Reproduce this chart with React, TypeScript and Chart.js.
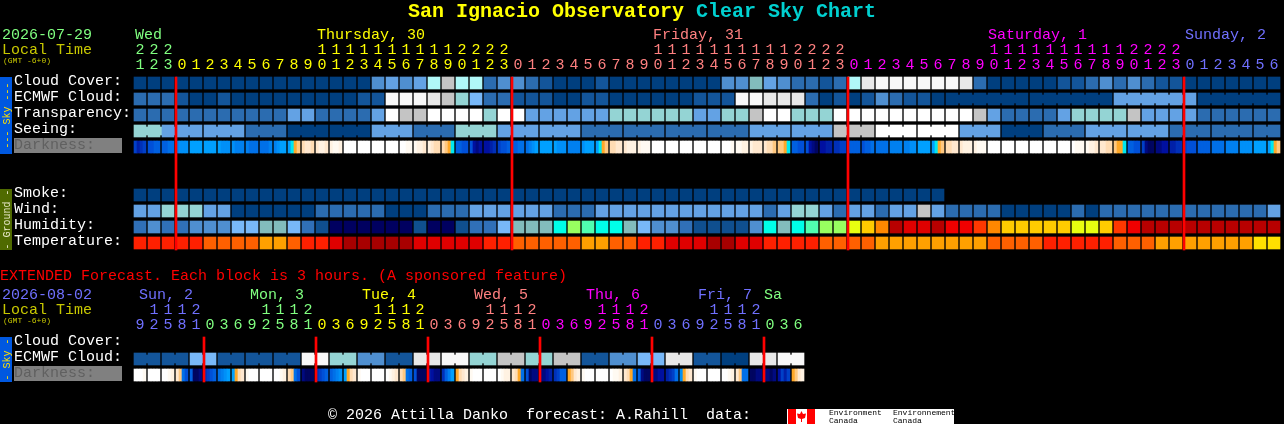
import React, { useEffect, useRef } from "react";
import { Chart, registerables } from "chart.js";

Chart.register(...registerables);

/* ---------- data (palette indices) ---------- */
const mainHours = [21,22,23,0,1,2,3,4,5,6,7,8,9,10,11,12,13,14,15,16,17,18,19,20,21,22,23,
  0,1,2,3,4,5,6,7,8,9,10,11,12,13,14,15,16,17,18,19,20,21,22,23,
  0,1,2,3,4,5,6,7,8,9,10,11,12,13,14,15,16,17,18,19,20,21,22,23,
  0,1,2,3,4,5,6];
const extHours = [9,12,15,18,21,0,3,6,9,12,15,18,21,0,3,6,9,12,15,18,21,0,3,6,9,12,15,18,21,
  0,3,6,9,12,15,18,21,0,3,6,9,12,15,18,21,0,3,6];

const cloudCover = [0,0,0,0,0,0,0,0,0,0,0,0,0,0,0,0,0,3,4,3,4,8,9,8,8,2,3,
  3,2,1,0,0,0,1,0,0,0,0,0,0,0,0,3,3,6,4,3,2,2,1,2,
  8,10,11,11,11,11,11,11,10,2,0,0,0,0,0,1,1,2,3,2,3,2,1,1,
  0,0,0,0,0,0,0];
const ecmwfCloud = [2,2,2,1,0,0,1,0,0,0,0,0,0,0,0,0,1,1,11,11,11,10,9,7,5,2,2,
  1,1,1,0,0,1,1,0,0,0,0,0,0,1,1,1,11,11,10,10,10,2,0,1,
  0,1,3,2,1,1,0,0,0,0,0,0,0,0,0,0,0,0,0,4,4,4,4,4,
  4,0,0,0,0,0,0];
const transparency = [2,2,2,2,2,2,2,2,2,2,2,4,4,2,2,2,2,4,12,9,9,12,12,12,12,7,12,
  12,4,4,4,4,4,4,7,7,7,7,7,7,4,4,7,7,9,12,12,7,7,7,12,
  12,12,12,12,12,12,12,12,12,9,4,2,2,2,2,4,7,7,7,7,9,4,4,4,
  4,2,2,2,2,2,2];
const seeing = [7,7,4,4,4,4,4,4,2,2,2,0,0,0,0,0,0,4,4,4,2,2,2,7,7,7,4,
  4,4,4,4,4,2,2,2,2,2,2,2,2,2,2,2,2,4,4,4,4,4,4,9,
  9,9,12,12,12,12,12,12,4,4,4,0,0,0,2,2,2,4,4,4,4,4,4,2,
  2,2,2,2,2,2,2];
const smoke = [0,0,0,0,0,0,0,0,0,0,0,0,0,0,0,0,0,0,0,0,0,0,0,0,0,0,0,0,0,
  0,0,0,0,0,0,0,0,0,0,0,0,0,0,0,0,0,0,0,0,0,0,0,0,0,0,0,0,0];
const wind = [4,4,7,7,7,4,4,0,0,0,0,0,0,2,2,2,2,2,0,0,0,2,2,2,4,4,4,
  4,4,4,2,2,2,4,4,4,4,4,4,4,4,4,4,4,4,2,4,7,7,4,2,
  4,4,2,4,4,9,4,2,2,2,2,0,0,0,0,0,2,0,2,2,2,2,2,2,
  2,2,2,2,2,2,4];
const humidity = [2,3,2,2,3,3,3,4,4,5,5,4,2,1,0,0,0,0,0,0,1,0,0,1,2,2,4,
  5,5,5,6,8,7,6,6,5,4,3,3,2,1,1,1,1,3,6,5,6,7,8,8,
  9,10,11,15,14,14,15,13,13,12,11,10,10,10,10,10,9,9,10,12,13,15,15,15,
  15,15,15,15,15,15,15];
const temperature = [2,2,2,2,2,3,3,3,3,4,4,3,2,2,1,0,0,0,0,0,1,1,1,1,1,2,2,
  3,3,3,3,3,4,4,3,3,2,2,1,1,1,0,0,1,1,2,2,2,2,3,3,
  3,3,4,4,4,4,4,4,4,4,3,3,3,3,2,2,2,2,2,3,3,3,4,4,
  4,4,4,4,4,5,5];
const darkness = [
  14,16,15,14, 13,13,12,12, 12,12,11,11, 10,9,9,9, 8,8,8,8, 8,8,8,8, 8,9,9,9, 9,10,10,10,
  10,11,11,11, 11,11,11,10, 10,9,8,8, 8,7,6,5, 4,3,3,4, 3,2,2,3, 2,1,1,2,
  0,0,0,0, 0,0,0,0, 0,0,0,0, 0,0,0,0, 0,0,1,1, 1,2,2,3, 2,3,4,4, 4,5,6,7,
  12,12,13,13, 13,17,18,17, 17,17,16,15, 14,13,13,12, 12,12,11,11, 11,10,9,8, 8,8,8,8,
  8,9,9,9, 10,10,10,10, 9,8,8,8, 8,7,6,5, 4,4,3,3, 3,2,2,2, 2,1,1,1,
  0,0,0,0, 0,0,0,0, 0,0,0,0, 0,0,0,0, 0,0,0,0, 0,0,0,1, 1,1,2,2, 2,3,3,3, 3,4,4,5, 5,5,6,7,
  12,12,13,13, 13,17,18,19, 17,17,16,16, 15,15,14,14, 12,12,12,12, 13,12,12,11, 11,11,11,11,
  10,10,10,10, 10,10,9,9, 8,8,8,8, 8,7,6,5, 4,4,3,3, 3,2,2,2, 2,1,1,1,
  0,0,0,0, 0,0,0,0, 0,0,0,0, 0,0,0,0, 0,0,0,0, 0,0,0,0, 0,1,1,1, 1,2,2,3, 3,3,4,4, 5,6,6,7,
  12,12,13,13, 14,18,19,19, 18,18,17,17, 16,16,15,15, 14,13,13,13, 12,12,12,12, 11,11,11,11,
  10,10,10,10, 9,9,9,9, 8,8,8,8, 8,7,6,5,
];
const extEcmwf = [1,1,5,1,1,1,11,7,3,1,10,11,7,9,7,9,1,3,5,10,1,0,10,11];
const extDarkness = [
  0,0,0,1, 0,0,0,0, 0,0,1,2, 3,5,11,13, 12,19,19,18, 15,14,13,12, 11,10,9,8, 8,6,4,3,
  1,0,0,0, 0,0,0,0, 0,0,1,2, 4,5,11,13, 18,19,19,19, 15,14,13,12, 12,11,10,9, 8,6,4,3,
  1,0,0,0, 0,0,0,0, 0,1,2,3, 4,5,11,12, 13,19,19,19, 16,17,18,18, 15,12,10,8, 6,4,3,2,
  1,0,0,0, 0,0,0,0, 0,1,2,2, 3,4,6,11, 13,19,18,18, 18,18,17,16, 15,14,12,12, 6,5,3,2,
  1,0,0,0, 0,0,0,0, 0,1,1,2, 3,4,6,11, 12,18,19,19, 18,18,17,17, 16,15,14,11, 9,6,4,3,
  1,0,0,0, 0,0,0,0, 0,0,1,2, 3,5,11,11, 19,19,18,18, 18,18,19,18, 17,14,16,14, 6,5,3,2,
];

const mainNightLines = [3, 27, 51, 75];
const extNightLines = [5, 13, 21, 29, 37, 45];

const skyLabels = ["Cloud Cover:", "ECMWF Cloud:", "Transparency:", "Seeing:"];
const groundLabels = ["Smoke:", "Wind:", "Humidity:", "Temperature:"];
const extLabels = ["Cloud Cover:", "ECMWF Cloud:"];
const mainDays = [
  { text: "Wed", x: 135, start: 0, color: "#80ff80" },
  { text: "Thursday, 30", x: 317, start: 3, color: "#ffff00" },
  { text: "Friday, 31", x: 653, start: 27, color: "#ff8080" },
  { text: "Saturday, 1", x: 988, start: 51, color: "#ff00ff" },
  { text: "Sunday, 2", x: 1185, start: 75, color: "#7070ff" },
];
const extDays = [
  { text: "Sun, 2", x: 139, start: 0, color: "#7070ff" },
  { text: "Mon, 3", x: 250, start: 5, color: "#80ff80" },
  { text: "Tue, 4", x: 362, start: 13, color: "#ffff00" },
  { text: "Wed, 5", x: 474, start: 21, color: "#ff8080" },
  { text: "Thu, 6", x: 586, start: 29, color: "#ff00ff" },
  { text: "Fri, 7", x: 698, start: 37, color: "#7070ff" },
  { text: "Sa", x: 764, start: 45, color: "#80ff80" },
];

/* ---------- styles ---------- */
const cloudColors = ["#003f7f","#13559a","#2b6cb0","#4f8fd0","#63a2e4","#78b8f8","#82bcbc","#94d4d4","#b0f8f8","#c4c4c4","#e8e8e8","#f8f8f8","#ffffff"];
const humidityColors = ["#000060","#0f4f8f","#3070b8","#4f8fd0","#78b8f8","#82bcbc","#00ffe8","#50ffb0","#98ff60","#e8ff10","#ffcc00","#ff8800","#ff3800","#f00000","#e00000","#b80000"];
const temperatureColors = ["#a80000","#e00000","#ff2000","#ff6000","#ffa000","#ffe000"];
const darknessColors = ["#ffffff","#fffaf2","#fff2e2","#ffe8cf","#ffdcb4","#ffc880","#ffa828","#00e8f0","#00a0ff","#0090f8","#0080f0","#0070e8","#0060e0","#0050d8","#0040c8","#0030b8","#0020a8","#0010a0","#000a80","#000560"];

const W = 1284, H = 424, X0 = 134, PITCH = 14, CELL = 12;
const MONO = '"Liberation Mono"';

const cellX = (i: number) => i + CELL / 2 / PITCH;

function cellRow(values: number[], colors: string[], top: number, label: string) {
  return {
    type: "bar", label, grouped: false, barThickness: CELL,
    data: values.map((_, i) => ({ x: cellX(i), y: [top, top + CELL] })),
    backgroundColor: values.map((v) => colors[v]),
  };
}
function linkRow(values: number[], links: number[], colors: string[], top: number, label: string) {
  return {
    type: "bar", label, grouped: false, barThickness: 2,
    data: links.map((i) => ({ x: i + (CELL + 1) / PITCH, y: [top + 2, top + 10] })),
    backgroundColor: links.map((i) => colors[values[i]]),
  };
}
function gradientRow(samples: number[], top: number, label: string) {
  return {
    type: "bar", label, grouped: false, barThickness: 3,
    data: samples.map((_, k) => ({ x: (Math.floor(k / 4) + ((k % 4) * 3 + 1.5) / PITCH), y: [top, top + CELL] })),
    backgroundColor: samples.map((v) => darknessColors[v]),
  };
}
function lines(at: number[], top: number, bottom: number, label: string) {
  return {
    type: "bar", label, grouped: false, barThickness: 2,
    data: at.map((i) => ({ x: i, y: [top, bottom] })),
    backgroundColor: "#ff0000",
  };
}

const seeingLinks = seeing.map((_, i) => i).filter((i) => i < seeing.length - 1 && (i === 0 || (i - 2) % 3 !== 2));
const ecmwfLinks = ecmwfCloud.map((_, i) => i).filter((i) => i >= 58 && i < ecmwfCloud.length - 1 && (i - 58) % 6 !== 5);
const extEcmwfCells = extEcmwf.flatMap((v) => [v, v]);
const extLinks = extEcmwfCells.map((_, i) => i).filter((i) => i % 2 === 0);

function panel(ctx: CanvasRenderingContext2D, top: number, bottom: number, fill: string, text: string, color: string) {
  ctx.fillStyle = fill;
  ctx.fillRect(0, top, 12, bottom - top);
  ctx.save();
  ctx.translate(10, (top + bottom) / 2);
  ctx.rotate(-Math.PI / 2);
  ctx.font = `10px ${MONO}`;
  ctx.textAlign = "center";
  ctx.fillStyle = color;
  ctx.fillText(text, 0, 0);
  ctx.restore();
}

const decorations = {
  id: "decorations",
  beforeDatasetsDraw(chart: any) {
    const ctx: CanvasRenderingContext2D = chart.ctx;
    ctx.save();
    panel(ctx, 77, 154, "#0058e0", "--- Sky ---", "#ffe000");
    panel(ctx, 189, 250, "#4f6a00", "- Ground -", "#e8e8c8");
    panel(ctx, 337, 382, "#0058e0", "- Sky -", "#ffe000");
    ctx.fillStyle = "#808080";
    ctx.fillRect(14, 138, 108, 15);
    ctx.fillRect(14, 366, 108, 15);
    ctx.restore();
  },
  afterDatasetsDraw(chart: any) {
    const ctx: CanvasRenderingContext2D = chart.ctx;
    const xs = chart.scales.x;
    const put = (t: string, x: number, y: number, color: string, font = `15px ${MONO}`, align: CanvasTextAlign = "left") => {
      ctx.font = font; ctx.fillStyle = color; ctx.textAlign = align; ctx.textBaseline = "alphabetic";
      ctx.fillText(t, x, y - 1);
    };
    ctx.save();
    // title
    const bold = `bold 20px ${MONO}`;
    put("San Ignacio Observatory", 408, 18, "#ffff00", bold);
    put("Clear Sky Chart", 696, 18, "#00d0d0", bold);
    // header blocks
    put("2026-07-29", 2, 40, "#80ff80");
    put("Local Time", 2, 55, "#c8c800");
    put("(GMT -6+0)", 3, 64, "#c8c800", `8px ${MONO}`);
    put("2026-08-02", 2, 300, "#7070ff");
    put("Local Time", 2, 315, "#c8c800");
    put("(GMT -6+0)", 3, 324, "#c8c800", `8px ${MONO}`);
    const hourRow = (hours: number[], days: typeof mainDays, tensY: number, onesY: number, dayY: number) => {
      days.forEach((d) => put(d.text, d.x, dayY, d.color));
      hours.forEach((h, i) => {
        const day = [...days].reverse().find((d) => i >= d.start)!;
        const px = xs.getPixelForValue(cellX(i));
        if (h >= 10) put(String(Math.floor(h / 10)), px, tensY, day.color, undefined, "center");
        put(String(h % 10), px, onesY, day.color, undefined, "center");
      });
    };
    hourRow(mainHours, mainDays, 55, 70, 40);
    hourRow(extHours, extDays, 315, 330, 300);
    // row labels
    skyLabels.forEach((t, i) => put(t, 14, 86 + 16 * i, "#ffffff"));
    put("Darkness:", 14, 150, "#606060");
    groundLabels.forEach((t, i) => put(t, 14, 198 + 16 * i, "#ffffff"));
    extLabels.forEach((t, i) => put(t, 14, 346 + 16 * i, "#ffffff"));
    put("Darkness:", 14, 378, "#606060");
    put("EXTENDED Forecast. Each block is 3 hours. (A sponsored feature)", 0, 281, "#ff0000");
    put("\u00a9 2026 Attilla Danko  forecast: A.Rahill  data:", 328, 420, "#ffffff");
    // logo
    ctx.fillStyle = "#ffffff"; ctx.fillRect(787, 409, 167, 15);
    ctx.fillStyle = "#ff0000"; ctx.fillRect(788, 409, 8, 15); ctx.fillRect(807, 409, 8, 15);
    ctx.beginPath();
    ctx.moveTo(801.5, 411); ctx.lineTo(803, 414); ctx.lineTo(806, 413.5); ctx.lineTo(805, 418); ctx.lineTo(802, 419);
    ctx.lineTo(802, 422); ctx.lineTo(801, 422); ctx.lineTo(801, 419); ctx.lineTo(798, 418); ctx.lineTo(797, 413.5); ctx.lineTo(800, 414);
    ctx.closePath(); ctx.fill();
    const tiny = `8px ${MONO}`;
    put("Environment", 829, 416, "#000000", tiny);
    put("Canada", 829, 424, "#000000", tiny);
    put("Environnement", 893, 416, "#000000", tiny);
    put("Canada", 893, 424, "#000000", tiny);
    ctx.restore();
  },
};

export default function App() {
  const ref = useRef<HTMLCanvasElement>(null);
  useEffect(() => {
    document.body.style.margin = "0";
    document.body.style.background = "#000";
    const chart = new Chart(ref.current!, {
      type: "bar",
      data: {
        datasets: [
          lines(mainNightLines, 77, 250, "Midnight"),
          lines(extNightLines, 337, 382, "Midnight (extended)"),
          cellRow(cloudCover, cloudColors, 77, "Cloud Cover"),
          cellRow(ecmwfCloud, cloudColors, 93, "ECMWF Cloud"),
          linkRow(ecmwfCloud, ecmwfLinks, cloudColors, 93, "ECMWF links"),
          cellRow(transparency, cloudColors, 109, "Transparency"),
          cellRow(seeing, cloudColors, 125, "Seeing"),
          linkRow(seeing, seeingLinks, cloudColors, 125, "Seeing links"),
          gradientRow(darkness, 141, "Darkness"),
          cellRow(smoke, cloudColors, 189, "Smoke"),
          cellRow(wind, cloudColors, 205, "Wind"),
          cellRow(humidity, humidityColors, 221, "Humidity"),
          cellRow(temperature, temperatureColors, 237, "Temperature"),
          cellRow(extEcmwfCells, cloudColors, 353, "Extended ECMWF Cloud"),
          linkRow(extEcmwfCells, extLinks, cloudColors, 353, "Extended links"),
          gradientRow(extDarkness, 369, "Extended Darkness"),
        ] as any,
      },
      options: {
        responsive: false,
        animation: false,
        layout: { padding: 0 },
        plugins: { legend: { display: false }, tooltip: { enabled: false }, title: { display: false } },
        scales: {
          x: { type: "linear", display: false, offset: false, min: -X0 / PITCH, max: (W - X0) / PITCH },
          y: { type: "linear", display: false, reverse: true, min: 0, max: H },
        },
      },
      plugins: [decorations],
    } as any);
    return () => chart.destroy();
  }, []);
  return (
    <canvas
      ref={ref}
      width={W}
      height={H}
      style={{ display: "block", width: W, height: H, background: "#000", position: "absolute", left: 0, top: 0 }}
    />
  );
}
